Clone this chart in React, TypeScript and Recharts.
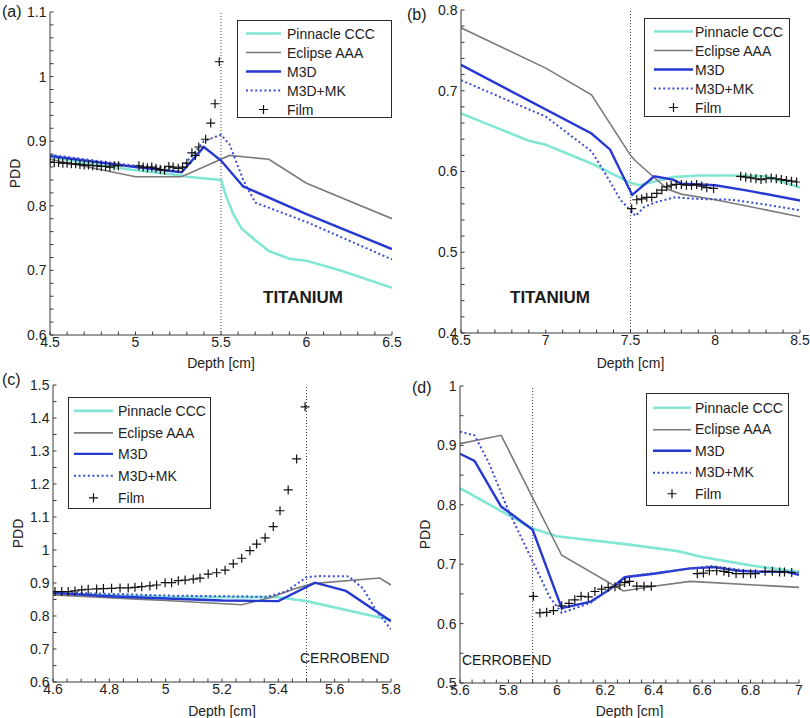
import { ComposedChart, Line, Scatter, XAxis, YAxis, ReferenceLine, Legend } from 'recharts';

const FONT = '"Liberation Sans", Arial, sans-serif';
const AXIS = '#3a3a3a';

type Pair = [number, number];
const pts = (a: Pair[]) => a.map(([x, y]) => ({ x, y }));

// series styles, in legend order
const SERIES = [
  { key: 'pinnacle', name: 'Pinnacle CCC', color: '#82e6d4', width: 2.6, dash: undefined as string | undefined },
  { key: 'eclipse', name: 'Eclipse AAA', color: '#7a7a7a', width: 1.6, dash: undefined },
  { key: 'm3d', name: 'M3D', color: '#2638d2', width: 2.4, dash: undefined },
  { key: 'mk', name: 'M3D+MK', color: '#3b4cd0', width: 2, dash: '2 2.6' },
];

// (a) titanium, proximal side
const pinnacleA: Pair[] = [[4.5, 0.876], [4.8, 0.862], [5.0, 0.855], [5.27, 0.847], [5.3, 0.845], [5.5, 0.84], [5.53, 0.815], [5.57, 0.788], [5.62, 0.765], [5.69, 0.749], [5.78, 0.73], [5.9, 0.718], [6.0, 0.715], [6.2, 0.7], [6.5, 0.673]];
const eclipseA: Pair[] = [[4.5, 0.872], [5.0, 0.845], [5.27, 0.845], [5.5, 0.872], [5.55, 0.878], [5.78, 0.872], [6.0, 0.835], [6.5, 0.78]];
const m3dA: Pair[] = [[4.5, 0.877], [5.0, 0.86], [5.27, 0.852], [5.4, 0.891], [5.5, 0.87], [5.63, 0.83], [6.0, 0.787], [6.5, 0.733]];
const mkA: Pair[] = [[4.5, 0.879], [5.0, 0.862], [5.27, 0.858], [5.4, 0.9], [5.5, 0.91], [5.55, 0.895], [5.63, 0.84], [5.7, 0.805], [6.0, 0.775], [6.5, 0.717]];
const filmA: Pair[] = [
  [4.5, 0.868], [4.525, 0.867], [4.55, 0.867], [4.575, 0.866], [4.6, 0.866], [4.625, 0.865], [4.65, 0.865], [4.675, 0.864],
  [4.7, 0.863], [4.725, 0.863], [4.75, 0.862], [4.775, 0.862], [4.8, 0.861], [4.825, 0.861], [4.85, 0.86], [4.875, 0.862], [4.9, 0.862],
  [5.02, 0.862], [5.045, 0.86], [5.07, 0.859], [5.095, 0.86], [5.12, 0.858], [5.145, 0.856], [5.17, 0.855], [5.195, 0.861],
  [5.22, 0.86], [5.25, 0.858], [5.275, 0.86], [5.3, 0.866], [5.33, 0.882], [5.35, 0.878], [5.37, 0.891], [5.41, 0.903],
  [5.44, 0.928], [5.465, 0.958], [5.49, 1.023],
];

// (b) titanium, distal side
const pinnacleB: Pair[] = [[6.5, 0.672], [6.7, 0.655], [6.9, 0.638], [7.0, 0.633], [7.28, 0.609], [7.5, 0.586], [7.55, 0.583], [7.65, 0.588], [7.75, 0.593], [7.9, 0.595], [8.1, 0.595], [8.3, 0.594], [8.5, 0.58]];
const eclipseB: Pair[] = [[6.5, 0.778], [7.0, 0.728], [7.27, 0.695], [7.5, 0.62], [7.53, 0.613], [7.6, 0.6], [7.72, 0.578], [7.8, 0.572], [8.0, 0.565], [8.5, 0.544]];
const m3dB: Pair[] = [[6.5, 0.732], [7.27, 0.647], [7.38, 0.627], [7.51, 0.571], [7.64, 0.594], [7.75, 0.59], [7.8, 0.585], [8.0, 0.583], [8.2, 0.576], [8.5, 0.564]];
const mkB: Pair[] = [[6.5, 0.713], [7.0, 0.668], [7.27, 0.625], [7.35, 0.598], [7.44, 0.565], [7.53, 0.545], [7.58, 0.556], [7.65, 0.562], [7.76, 0.568], [7.9, 0.566], [8.1, 0.565], [8.3, 0.559], [8.5, 0.552]];
const filmB: Pair[] = [
  [7.507, 0.554], [7.537, 0.565], [7.566, 0.566], [7.596, 0.568], [7.625, 0.568], [7.655, 0.573], [7.685, 0.577], [7.714, 0.581],
  [7.74, 0.583], [7.77, 0.584], [7.8, 0.584], [7.83, 0.583], [7.86, 0.583], [7.89, 0.584], [7.92, 0.582], [7.95, 0.58], [7.99, 0.579],
  [8.15, 0.594], [8.18, 0.593], [8.21, 0.592], [8.24, 0.591], [8.27, 0.59], [8.3, 0.591], [8.33, 0.592], [8.36, 0.591],
  [8.39, 0.59], [8.42, 0.589], [8.45, 0.588], [8.48, 0.587],
];

// (c) cerrobend, proximal side
const pinnacleC: Pair[] = [[4.6, 0.868], [5.0, 0.858], [5.4, 0.857], [5.5, 0.845], [5.8, 0.788]];
const eclipseC: Pair[] = [[4.6, 0.864], [4.9, 0.851], [5.0, 0.847], [5.27, 0.834], [5.37, 0.855], [5.45, 0.88], [5.52, 0.898], [5.76, 0.915], [5.8, 0.894]];
const m3dC: Pair[] = [[4.6, 0.87], [4.8, 0.86], [5.0, 0.853], [5.2, 0.847], [5.4, 0.845], [5.53, 0.901], [5.64, 0.876], [5.8, 0.784]];
const mkC: Pair[] = [[4.6, 0.872], [5.0, 0.862], [5.36, 0.858], [5.43, 0.875], [5.5, 0.918], [5.55, 0.921], [5.65, 0.92], [5.7, 0.884], [5.75, 0.813], [5.8, 0.76]];
const filmC: Pair[] = [
  [4.607, 0.874], [4.631, 0.874], [4.654, 0.874], [4.678, 0.876], [4.702, 0.879], [4.725, 0.881], [4.755, 0.882], [4.779, 0.883],
  [4.808, 0.884], [4.838, 0.885], [4.867, 0.885], [4.891, 0.887], [4.915, 0.889], [4.944, 0.891], [4.968, 0.894], [4.998, 0.901],
  [5.021, 0.901], [5.045, 0.907], [5.069, 0.909], [5.098, 0.912], [5.122, 0.915], [5.151, 0.927], [5.181, 0.931], [5.211, 0.939],
  [5.24, 0.958], [5.27, 0.975], [5.299, 0.998], [5.323, 1.018], [5.353, 1.037], [5.382, 1.071], [5.406, 1.119], [5.435, 1.182],
  [5.465, 1.276], [5.495, 1.434],
];

// (d) cerrobend, distal side
const pinnacleD: Pair[] = [[5.6, 0.828], [5.9, 0.76], [6.0, 0.747], [6.3, 0.733], [6.5, 0.722], [6.6, 0.712], [6.8, 0.698], [7.0, 0.687]];
const eclipseD: Pair[] = [[5.6, 0.903], [5.77, 0.917], [6.02, 0.715], [6.275, 0.655], [6.4, 0.663], [6.55, 0.671], [7.0, 0.661]];
const m3dD: Pair[] = [[5.6, 0.886], [5.66, 0.874], [5.77, 0.797], [5.9, 0.758], [6.02, 0.626], [6.14, 0.637], [6.22, 0.658], [6.28, 0.678], [6.4, 0.684], [6.55, 0.693], [6.65, 0.695], [6.75, 0.689], [6.85, 0.687], [6.95, 0.687], [7.0, 0.682]];
const mkD: Pair[] = [[5.6, 0.923], [5.66, 0.917], [5.72, 0.87], [5.8, 0.79], [5.9, 0.705], [5.97, 0.645], [6.02, 0.618], [6.14, 0.635], [6.22, 0.659], [6.3, 0.68], [6.5, 0.69], [6.64, 0.697], [6.8, 0.688], [7.0, 0.686]];
const filmD: Pair[] = [
  [5.903, 0.646], [5.93, 0.618], [5.958, 0.619], [5.986, 0.622], [6.02, 0.63], [6.05, 0.634], [6.074, 0.64], [6.1, 0.646],
  [6.13, 0.645], [6.157, 0.654], [6.185, 0.658], [6.212, 0.661], [6.24, 0.662], [6.26, 0.665], [6.28, 0.669], [6.3, 0.671],
  [6.33, 0.663], [6.36, 0.663], [6.39, 0.663],
  [6.58, 0.684], [6.605, 0.685], [6.63, 0.689], [6.66, 0.689], [6.69, 0.688], [6.71, 0.686], [6.74, 0.684], [6.77, 0.684],
  [6.8, 0.684], [6.82, 0.684], [6.86, 0.688], [6.89, 0.688], [6.92, 0.687], [6.94, 0.687], [6.97, 0.686],
];

const xTicksA = [4.5, 5, 5.5, 6, 6.5];
const yTicksA = [0.6, 0.7, 0.8, 0.9, 1, 1.1];
const xTicksB = [6.5, 7, 7.5, 8, 8.5];
const yTicksB = [0.4, 0.5, 0.6, 0.7, 0.8];
const xTicksC = [4.6, 4.8, 5, 5.2, 5.4, 5.6, 5.8];
const yTicksC = [0.6, 0.7, 0.8, 0.9, 1, 1.1, 1.2, 1.3, 1.4, 1.5];
const xTicksD = [5.6, 5.8, 6, 6.2, 6.4, 6.6, 6.8, 7];
const yTicksD = [0.5, 0.6, 0.7, 0.8, 0.9, 1];

// major ticks plus evenly spaced minor ticks between them
const withMinor = (major: number[], sub: number) => {
  const out: number[] = [];
  for (let i = 0; i < major.length - 1; i++) {
    const step = (major[i + 1] - major[i]) / sub;
    for (let k = 0; k < sub; k++) out.push(+(major[i] + k * step).toFixed(4));
  }
  out.push(major[major.length - 1]);
  return out;
};
const majorOnly = (major: number[]) => (v: number) =>
  major.some((m) => Math.abs(m - v) < 1e-6) ? String(v) : '';

const Plus = (props: any) => {
  const { cx, cy } = props;
  if (cx == null || cy == null) return null;
  return <path d={`M${cx - 4.5},${cy}h9M${cx},${cy - 4.5}v9`} stroke="#111" strokeWidth={1.2} fill="none" />;
};

interface LegendSpec {
  left: number; top: number; width: number; height: number;
  rowH: number; padTop: number; swatchX: number; swatchLen: number; textX: number;
}

function LegendBox({ spec }: { spec: LegendSpec }) {
  const rows = [...SERIES.map((s) => ({ ...s, film: false })), { key: 'film', name: 'Film', color: '#111', width: 1, dash: undefined, film: true }];
  const mid = spec.rowH / 2;
  return (
    <div style={{
      boxSizing: 'border-box', width: spec.width, height: spec.height, border: '1.3px solid #2a2a2a',
      background: '#fff', paddingTop: spec.padTop, fontFamily: FONT, fontSize: 14, color: '#222',
    }}>
      {rows.map((r) => (
        <div key={r.key} style={{ height: spec.rowH, display: 'flex', alignItems: 'center', whiteSpace: 'nowrap' }}>
          <svg width={spec.textX} height={spec.rowH} style={{ flex: 'none' }}>
            {r.film ? (
              <path d={`M${spec.swatchX + spec.swatchLen / 2 - 4.5},${mid}h9M${spec.swatchX + spec.swatchLen / 2},${mid - 4.5}v9`} stroke="#111" strokeWidth={1.2} />
            ) : (
              <line x1={spec.swatchX} x2={spec.swatchX + spec.swatchLen} y1={mid} y2={mid}
                stroke={r.color} strokeWidth={r.width} strokeDasharray={r.dash} />
            )}
          </svg>
          <span>{r.name}</span>
        </div>
      ))}
    </div>
  );
}

interface Note { text: string; left: number; top: number; size: number; bold?: boolean }

interface PanelProps {
  left: number; top: number; width: number; height: number;
  margin: { top: number; right: number; bottom: number; left: number };
  xAxisH: number; xLabelOffset: number;
  xDomain: [number, number]; xTicks: number[]; xSub: number;
  yDomain: [number, number]; yTicks: number[]; ySub: number;
  lines: Pair[][]; film: Pair[]; refX: number;
  legend: LegendSpec; notes: Note[]; yLabel: boolean;
}

function Panel(p: PanelProps) {
  const xt = withMinor(p.xTicks, p.xSub);
  const yt = withMinor(p.yTicks, p.ySub);
  const tick = { fill: '#222', fontSize: 14, fontFamily: FONT };
  const line = { stroke: AXIS, strokeWidth: 1 };
  return (
    <div style={{ position: 'absolute', left: p.left, top: p.top, width: p.width, height: p.height }}>
      <ComposedChart width={p.width} height={p.height} margin={p.margin}>
        <XAxis xAxisId="top" orientation="top" type="number" domain={p.xDomain} allowDataOverflow
          ticks={xt} interval={0} height={0} mirror tick={false} tickSize={3.5} axisLine={line} tickLine={line} />
        <YAxis yAxisId="right" orientation="right" type="number" domain={p.yDomain} allowDataOverflow
          ticks={yt} interval={0} width={0} mirror tick={false} tickSize={3.5} axisLine={line} tickLine={line} />
        <XAxis xAxisId="x" type="number" dataKey="x" domain={p.xDomain} allowDataOverflow ticks={xt} interval={0}
          height={p.xAxisH} tickSize={-3.5} tickMargin={6} tickFormatter={majorOnly(p.xTicks)}
          tick={tick} axisLine={line} tickLine={line}
          label={{ value: 'Depth [cm]', position: 'insideBottom', offset: p.xLabelOffset, style: { fontSize: 14, fill: '#222', fontFamily: FONT } }} />
        <YAxis yAxisId="y" type="number" dataKey="y" domain={p.yDomain} allowDataOverflow ticks={yt} interval={0}
          width={40} tickSize={-3.5} tickMargin={7} tickFormatter={majorOnly(p.yTicks)}
          tick={tick} axisLine={line} tickLine={line}
          label={p.yLabel ? { value: 'PDD', angle: -90, position: 'insideLeft', offset: 5, style: { textAnchor: 'middle', fontSize: 14, fill: '#222', fontFamily: FONT } } : undefined} />
        <ReferenceLine xAxisId="x" yAxisId="y" x={p.refX} stroke="#444" strokeDasharray="1 2" />
        {SERIES.map((s, i) => (
          <Line key={s.key} xAxisId="x" yAxisId="y" data={pts(p.lines[i])} dataKey="y" name={s.name}
            type="linear" stroke={s.color} strokeWidth={s.width} strokeDasharray={s.dash}
            dot={false} activeDot={false} isAnimationActive={false} />
        ))}
        <Scatter xAxisId="x" yAxisId="y" data={pts(p.film)} dataKey="y" name="Film" shape={Plus} isAnimationActive={false} />
        <Legend layout="vertical" align="center" verticalAlign="middle"
          wrapperStyle={{ left: p.legend.left, top: p.legend.top, width: p.legend.width, height: p.legend.height }}
          content={() => <LegendBox spec={p.legend} />} />
      </ComposedChart>
      {p.notes.map((n) => (
        <div key={n.text + n.left} style={{
          position: 'absolute', left: n.left, top: n.top, fontFamily: FONT, fontSize: n.size,
          fontWeight: n.bold ? 700 : 400, lineHeight: 1, whiteSpace: 'nowrap', color: '#1a1a1a',
        }}>{n.text}</div>
      ))}
    </div>
  );
}

export default function App() {
  return (
    <div style={{ position: 'absolute', left: 0, top: 0, width: 810, height: 718, background: '#fff', fontFamily: FONT }}>
      <Panel left={0} top={0} width={412} height={372}
        margin={{ top: 12, right: 20, bottom: 0, left: 10 }} xAxisH={37} xLabelOffset={4}
        xDomain={[4.5, 6.5]} xTicks={xTicksA} xSub={5} yDomain={[0.6, 1.1]} yTicks={yTicksA} ySub={5}
        lines={[pinnacleA, eclipseA, m3dA, mkA]} film={filmA} refX={5.5}
        legend={{ left: 237, top: 20, width: 155, height: 98, rowH: 19, padTop: 3, swatchX: 8, swatchLen: 35, textX: 49 }}
        notes={[{ text: '(a)', left: 2, top: 4, size: 16 }, { text: 'TITANIUM', left: 263, top: 289, size: 17, bold: true }]}
        yLabel />
      <Panel left={400} top={0} width={410} height={372}
        margin={{ top: 10, right: 10, bottom: 0, left: 21 }} xAxisH={39} xLabelOffset={4}
        xDomain={[6.5, 8.5]} xTicks={xTicksB} xSub={5} yDomain={[0.4, 0.8]} yTicks={yTicksB} ySub={5}
        lines={[pinnacleB, eclipseB, m3dB, mkB]} film={filmB} refX={7.5}
        legend={{ left: 244, top: 18, width: 146, height: 99, rowH: 19, padTop: 3, swatchX: 9, swatchLen: 39, textX: 50 }}
        notes={[{ text: '(b)', left: 7, top: 7, size: 16 }, { text: 'TITANIUM', left: 110, top: 289, size: 17, bold: true }]}
        yLabel={false} />
      <Panel left={0} top={365} width={412} height={353}
        margin={{ top: 20, right: 21, bottom: 0, left: 13 }} xAxisH={36} xLabelOffset={2}
        xDomain={[4.6, 5.8]} xTicks={xTicksC} xSub={4} yDomain={[0.6, 1.5]} yTicks={yTicksC} ySub={2}
        lines={[pinnacleC, eclipseC, m3dC, mkC]} film={filmC} refX={5.5}
        legend={{ left: 68, top: 32, width: 143, height: 112, rowH: 21.7, padTop: 2, swatchX: 5, swatchLen: 39, textX: 49 }}
        notes={[{ text: '(c)', left: 2, top: 7, size: 16 }, { text: 'CERROBEND', left: 300, top: 286, size: 14 }]}
        yLabel />
      <Panel left={400} top={365} width={410} height={353}
        margin={{ top: 21, right: 11, bottom: 0, left: 20 }} xAxisH={35} xLabelOffset={2}
        xDomain={[5.6, 7]} xTicks={xTicksD} xSub={4} yDomain={[0.5, 1]} yTicks={yTicksD} ySub={2}
        lines={[pinnacleD, eclipseD, m3dD, mkD]} film={filmD} refX={5.9}
        legend={{ left: 246, top: 28, width: 143, height: 113, rowH: 21.5, padTop: 3, swatchX: 6, swatchLen: 38, textX: 48 }}
        notes={[{ text: '(d)', left: 12, top: 15, size: 16 }, { text: 'CERROBEND', left: 62, top: 288, size: 14 }]}
        yLabel />
    </div>
  );
}
